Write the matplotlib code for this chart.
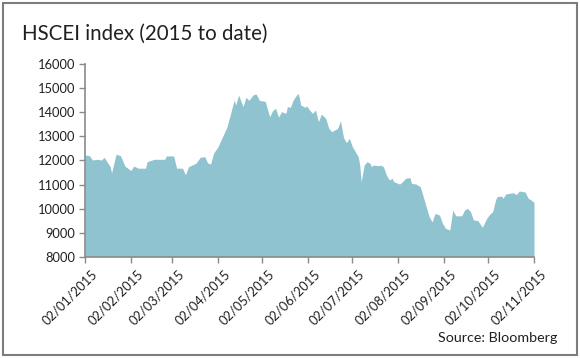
import matplotlib
matplotlib.use("Agg")
import matplotlib.pyplot as plt
import matplotlib.dates as mdates
from matplotlib.patches import Rectangle
from matplotlib.transforms import ScaledTranslation
import pandas as pd

TITLE = "HSCEI index (2015 to date)"
SOURCE = "Source: Bloomberg"

DATES = [
    "2015-01-02", "2015-01-05", "2015-01-07", "2015-01-10", "2015-01-13", "2015-01-15",
    "2015-01-19", "2015-01-20", "2015-01-23", "2015-01-26", "2015-01-29", "2015-02-02",
    "2015-02-04", "2015-02-05", "2015-02-07", "2015-02-12", "2015-02-13", "2015-02-18",
    "2015-02-25", "2015-02-26", "2015-03-03", "2015-03-05", "2015-03-09", "2015-03-11",
    "2015-03-13", "2015-03-18", "2015-03-21", "2015-03-24", "2015-03-26", "2015-03-28",
    "2015-03-30", "2015-04-02", "2015-04-08", "2015-04-10", "2015-04-13", "2015-04-14",
    "2015-04-16", "2015-04-19", "2015-04-21", "2015-04-23", "2015-04-26", "2015-04-28",
    "2015-04-30", "2015-05-04", "2015-05-07", "2015-05-09", "2015-05-11", "2015-05-13",
    "2015-05-15", "2015-05-18", "2015-05-19", "2015-05-21", "2015-05-23", "2015-05-26",
    "2015-05-27", "2015-05-28", "2015-05-31", "2015-06-01", "2015-06-03", "2015-06-05",
    "2015-06-07", "2015-06-09", "2015-06-11", "2015-06-14", "2015-06-16", "2015-06-18",
    "2015-06-21", "2015-06-22", "2015-06-24", "2015-06-26", "2015-06-28", "2015-06-30",
    "2015-07-02", "2015-07-06", "2015-07-07", "2015-07-08", "2015-07-10", "2015-07-12",
    "2015-07-14", "2015-07-15", "2015-07-16", "2015-07-20", "2015-07-21", "2015-07-23",
    "2015-07-25", "2015-07-27", "2015-07-29", "2015-07-30", "2015-08-03", "2015-08-05",
    "2015-08-07", "2015-08-10", "2015-08-11", "2015-08-14", "2015-08-17", "2015-08-20",
    "2015-08-23", "2015-08-25", "2015-08-27", "2015-08-30", "2015-09-01", "2015-09-03",
    "2015-09-06", "2015-09-08", "2015-09-10", "2015-09-14", "2015-09-16", "2015-09-18",
    "2015-09-20", "2015-09-22", "2015-09-25", "2015-09-28", "2015-10-01", "2015-10-03",
    "2015-10-05", "2015-10-07", "2015-10-08", "2015-10-11", "2015-10-12", "2015-10-14",
    "2015-10-19", "2015-10-21", "2015-10-23", "2015-10-27", "2015-10-29", "2015-10-31",
    "2015-11-02",
]
VALUES = [
    12230, 12200, 12020, 12050, 12020, 12130,
    11740, 11490, 12260, 12200, 11770, 11580,
    11770, 11740, 11680, 11680, 11950, 12050,
    12050, 12190, 12190, 11680, 11680, 11400,
    11740, 11880, 12130, 12160, 11900, 11850,
    12300, 12570, 13380, 13820, 14520, 14300,
    14720, 14240, 14630, 14500, 14740, 14760,
    14500, 14460, 13820, 14070, 14170, 13800,
    14030, 13960, 14240, 14210, 14520, 14790,
    14650, 14310, 14210, 14270, 14100, 13960,
    14100, 13610, 13930, 13750, 13340, 13200,
    13300, 13340, 13650, 12960, 12740, 12920,
    12570, 12160, 11810, 11120, 11810, 11950,
    11880, 11740, 11810, 11780, 11810, 11740,
    11400, 11190, 11260, 11120, 11020, 11120,
    11260, 11290, 11050, 11020, 10910, 10290,
    9660, 9450, 9800, 9730, 9390, 9180,
    9110, 9940, 9700, 9700, 9940, 10010,
    9870, 9530, 9500, 9220, 9600, 9760,
    9870, 10360, 10500, 10520, 10430, 10610,
    10660, 10580, 10730, 10690, 10430, 10360,
    10250,
]
TICK_DATES = [
    "2015-01-02", "2015-02-02", "2015-03-02", "2015-04-02", "2015-05-02", "2015-06-02",
    "2015-07-02", "2015-08-02", "2015-09-02", "2015-10-02", "2015-11-02",
]
Y_TICKS = [8000, 9000, 10000, 11000, 12000, 13000, 14000, 15000, 16000]

FILL = "#8ec3cf"
GREY = "#8a8a8a"
TEXT = "#231f20"

plt.rcParams["font.family"] = ["Lato", "DejaVu Sans"]

dates = pd.to_datetime(DATES)
ticks = pd.to_datetime(TICK_DATES)

fig = plt.figure(figsize=(5.8, 3.58), dpi=100)
ax = fig.add_axes([0.1466, 0.283, 0.7741, 0.5374])

ax.fill_between(dates, VALUES, Y_TICKS[0], color=FILL, linewidth=0)

ax.set_xlim(ticks[0], ticks[-1])
ax.set_ylim(Y_TICKS[0], Y_TICKS[-1])
ax.set_yticks(Y_TICKS)
ax.set_xticks(ticks)
ax.xaxis.set_major_formatter(mdates.DateFormatter("%d/%m/%Y"))

for side in ("top", "right"):
    ax.spines[side].set_visible(False)
for side in ("left", "bottom"):
    ax.spines[side].set_color(GREY)
    ax.spines[side].set_linewidth(1.2)

ax.tick_params(axis="both", colors=GREY, length=4, width=1.0, labelcolor=TEXT, labelsize=9.3)
ax.tick_params(axis="y", pad=3)
ax.tick_params(axis="x", pad=4)

offset = ScaledTranslation(6 / 100, 0, fig.dpi_scale_trans)
for lbl in ax.get_xticklabels():
    lbl.set_rotation(45)
    lbl.set_ha("right")
    lbl.set_va("top")
    lbl.set_rotation_mode("anchor")
    lbl.set_transform(lbl.get_transform() + offset)

fig.text(0.0375, 0.8897, TITLE, fontsize=14.8, color=TEXT, va="baseline")
fig.text(0.961, 0.0447, SOURCE, fontsize=10.3, color=TEXT, ha="right", va="baseline")

fig.patches.append(Rectangle((0.0052, 0.0084), 0.9897, 0.983, transform=fig.transFigure,
                             fill=False, edgecolor="#7d7d7d", linewidth=1.5))

fig.savefig("out.png", dpi=100)
